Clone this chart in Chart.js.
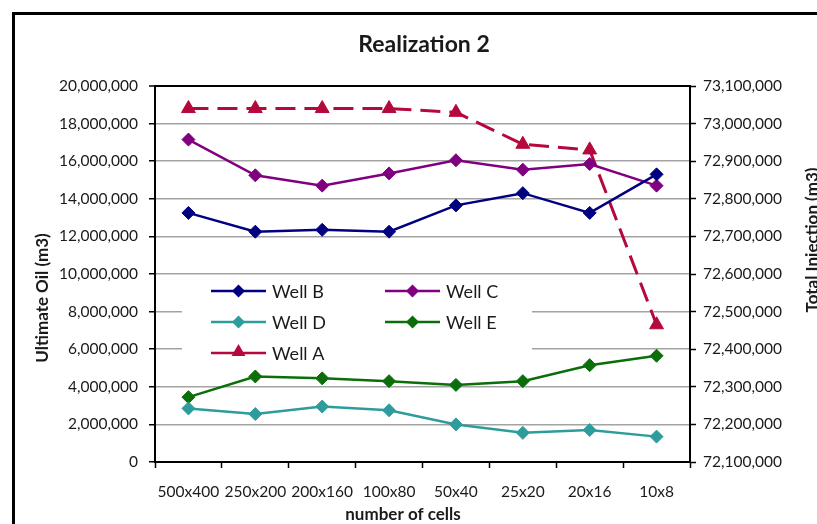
<!DOCTYPE html>
<html>
<head>
<meta charset="utf-8">
<script src="https://cdn.jsdelivr.net/npm/chart.js@4.4.1/dist/chart.umd.min.js"></script>
<style>
  html, body { margin: 0; padding: 0; background: #fff; }
  #wrap { width: 817px; height: 524px; position: relative; }
</style>
</head>
<body>
<div id="wrap"><canvas id="c" width="817" height="524"></canvas></div>
<script>
// Grid resolutions (number of cells)
const categories = ['500x400', '250x200', '200x160', '100x80', '50x40', '25x20', '20x16', '10x8'];

// Ultimate oil per well (m3), left axis
const wellB = [13250000, 12250000, 12350000, 12250000, 13650000, 14300000, 13250000, 15300000];
const wellC = [17150000, 15250000, 14700000, 15350000, 16050000, 15550000, 15850000, 14700000];
const wellD = [2850000, 2550000, 2950000, 2750000, 2000000, 1550000, 1700000, 1350000];
const wellE = [3450000, 4550000, 4450000, 4300000, 4100000, 4300000, 5150000, 5650000];

// Total injection (m3), right axis
const wellA = [73040000, 73040000, 73040000, 73040000, 73030000, 72945000, 72930000, 72465000];

// Axis ranges
const oilTicks = { min: 0, max: 20000000, step: 2000000 };
const injTicks = { min: 72100000, max: 73100000, step: 100000 };

const FONT = 'Lato, "Liberation Sans", sans-serif';
const TEXT = '#1a1a1a';

const COLORS = {
  B: '#000080',
  C: '#800080',
  D: '#2e9c9c',
  E: '#0b6e0b',
  A: '#b5083c'
};

function drawDiamond(ctx, x, y, r, color) {
  ctx.beginPath();
  ctx.moveTo(x - r, y);
  ctx.lineTo(x, y - r);
  ctx.lineTo(x + r, y);
  ctx.lineTo(x, y + r);
  ctx.closePath();
  ctx.fillStyle = color;
  ctx.fill();
}

function drawTriangle(ctx, x, y, r, color) {
  ctx.beginPath();
  ctx.moveTo(x, y - r);
  ctx.lineTo(x + r * Math.sin(Math.PI / 3), y + r / 2);
  ctx.lineTo(x - r * Math.sin(Math.PI / 3), y + r / 2);
  ctx.closePath();
  ctx.fillStyle = color;
  ctx.fill();
}

// Outer frame, chart title and axis titles
const decorations = {
  id: 'decorations',
  afterDraw(chart) {
    const ctx = chart.ctx;
    ctx.save();
    ctx.strokeStyle = '#000';
    ctx.lineWidth = 3;
    ctx.strokeRect(13.5, 13.5, 900, 600);

    ctx.fillStyle = TEXT;
    ctx.textAlign = 'center';
    ctx.textBaseline = 'middle';
    ctx.font = 'bold 23px ' + FONT;
    ctx.fillText('Realization 2', 424, 45);

    ctx.font = 'bold 17px ' + FONT;
    ctx.fillText('number of cells', 403, 515);

    ctx.save();
    ctx.translate(43, 298);
    ctx.rotate(-Math.PI / 2);
    ctx.fillText('Ultimate Oil (m3)', 0, 0);
    ctx.restore();

    ctx.save();
    ctx.translate(813, 240);
    ctx.rotate(-Math.PI / 2);
    ctx.fillText('Total Injection (m3)', 0, 0);
    ctx.restore();
    ctx.restore();
  }
};

// Legend box placed inside the plot area
const insideLegend = {
  id: 'insideLegend',
  beforeDatasetsDraw(chart) {
    const ctx = chart.ctx;
    ctx.save();
    ctx.fillStyle = '#fff';
    ctx.fillRect(182, 277, 350, 93);
    const entries = [
      { label: 'Well B', color: COLORS.B, shape: 'diamond', x: 211, y: 291 },
      { label: 'Well C', color: COLORS.C, shape: 'diamond', x: 385, y: 291 },
      { label: 'Well D', color: COLORS.D, shape: 'diamond', x: 211, y: 322 },
      { label: 'Well E', color: COLORS.E, shape: 'diamond', x: 385, y: 322 },
      { label: 'Well A', color: COLORS.A, shape: 'triangle', x: 211, y: 353 }
    ];
    ctx.font = '18px ' + FONT;
    ctx.textBaseline = 'middle';
    ctx.textAlign = 'left';
    entries.forEach(e => {
      ctx.strokeStyle = e.color;
      ctx.lineWidth = 2.5;
      ctx.beginPath();
      ctx.moveTo(e.x, e.y);
      ctx.lineTo(e.x + 55, e.y);
      ctx.stroke();
      if (e.shape === 'diamond') drawDiamond(ctx, e.x + 27.5, e.y, 6.5, e.color);
      else drawTriangle(ctx, e.x + 27.5, e.y - 1, 8, e.color);
      ctx.fillStyle = TEXT;
      ctx.fillText(e.label, e.x + 61, e.y + 1);
    });
    ctx.restore();
  }
};

const fmt = v => Number(v).toLocaleString('en-US');

function lineSet(label, data, color, axis, extra) {
  return Object.assign({
    label: label,
    data: data,
    yAxisID: axis,
    borderColor: color,
    backgroundColor: color,
    pointBackgroundColor: color,
    pointBorderColor: color,
    borderWidth: 2.5,
    pointStyle: 'rectRot',
    pointRadius: 6.5,
    pointHoverRadius: 6.5,
    pointBorderWidth: 1,
    tension: 0,
    fill: false
  }, extra || {});
}

new Chart(document.getElementById('c'), {
  type: 'line',
  data: {
    labels: categories,
    datasets: [
      lineSet('Well B', wellB, COLORS.B, 'y'),
      lineSet('Well C', wellC, COLORS.C, 'y'),
      lineSet('Well D', wellD, COLORS.D, 'y'),
      lineSet('Well E', wellE, COLORS.E, 'y'),
      lineSet('Well A', wellA, COLORS.A, 'y1', {
        borderDash: [20, 9],
        borderWidth: 3,
        pointStyle: 'triangle',
        pointRadius: 8,
        pointHoverRadius: 8
      })
    ]
  },
  options: {
    responsive: false,
    animation: false,
    layout: { padding: { top: 86, bottom: 0, left: 0, right: 0 } },
    plugins: {
      legend: { display: false },
      title: { display: false },
      tooltip: { enabled: false }
    },
    scales: {
      x: {
        type: 'category',
        offset: true,
        grid: {
          offset: true,
          drawOnChartArea: false,
          drawTicks: true,
          tickLength: 6,
          tickColor: '#000',
          tickWidth: 1.5
        },
        border: { color: '#000', width: 2 },
        ticks: {
          color: TEXT,
          font: { family: FONT, size: 15.5 },
          padding: 15,
          maxRotation: 0,
          autoSkip: false
        },
        afterFit(scale) { scale.height = 62; }
      },
      y: {
        position: 'left',
        min: oilTicks.min,
        max: oilTicks.max,
        grid: {
          color: ctx => (ctx.tick && (ctx.tick.value === oilTicks.max || ctx.tick.value === oilTicks.min)) ? '#000' : '#a3a3a3',
          lineWidth: ctx => (ctx.tick && ctx.tick.value === oilTicks.max) ? 2 : 1.5,
          tickLength: 6,
          tickColor: '#000',
          tickWidth: 1.5
        },
        border: { color: '#000', width: 2 },
        ticks: {
          stepSize: oilTicks.step,
          color: TEXT,
          font: { family: FONT, size: 15.5 },
          padding: 11,
          callback: v => fmt(v)
        },
        afterFit(scale) { scale.width = 155; }
      },
      y1: {
        position: 'right',
        min: injTicks.min,
        max: injTicks.max,
        grid: {
          drawOnChartArea: false,
          tickLength: 6,
          tickColor: '#000',
          tickWidth: 1.5
        },
        border: { color: '#000', width: 2 },
        ticks: {
          stepSize: injTicks.step,
          color: TEXT,
          font: { family: FONT, size: 15.5 },
          padding: 7,
          callback: v => fmt(v)
        },
        afterFit(scale) { scale.width = 127; }
      }
    }
  },
  plugins: [insideLegend, decorations]
});
</script>
</body>
</html>
